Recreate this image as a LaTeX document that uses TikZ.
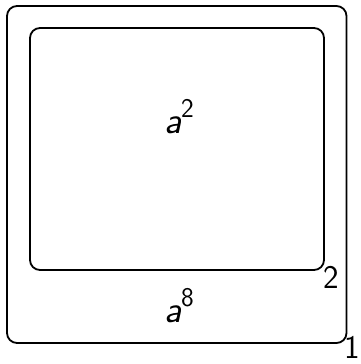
\documentclass[tikz,border=0pt]{standalone}
\usepackage{fontspec}
\setsansfont{Latin Modern Sans}
\newcommand{\supx}[1]{\raisebox{0.4em}{\fontsize{27}{30}\selectfont #1}}
\begin{document}
\begin{tikzpicture}[x=1pt,y=-1pt,
  box/.style={draw,line width=1.8pt,rounded corners=10pt},
  lbl/.style={font=\fontsize{38}{40}\selectfont\sffamily,inner sep=0pt,anchor=base},
  num/.style={font=\fontsize{33}{36}\selectfont\sffamily,inner sep=0pt,anchor=base}]
\useasboundingbox (0,0) rectangle (361,364);
\draw[box] (7,6) rectangle (346.5,343);
\draw[box] (30,28) rectangle (324,270);
\node[lbl] (l2) at (179,133) {{\itshape a}\supx{2}};
\node[lbl] (l8) at (179,322) {{\itshape a}\supx{8}};
\node[num] (n2) at (331.5,288) {2};
\node[num] (n1) at (352,358) {1};
\end{tikzpicture}
\end{document}
